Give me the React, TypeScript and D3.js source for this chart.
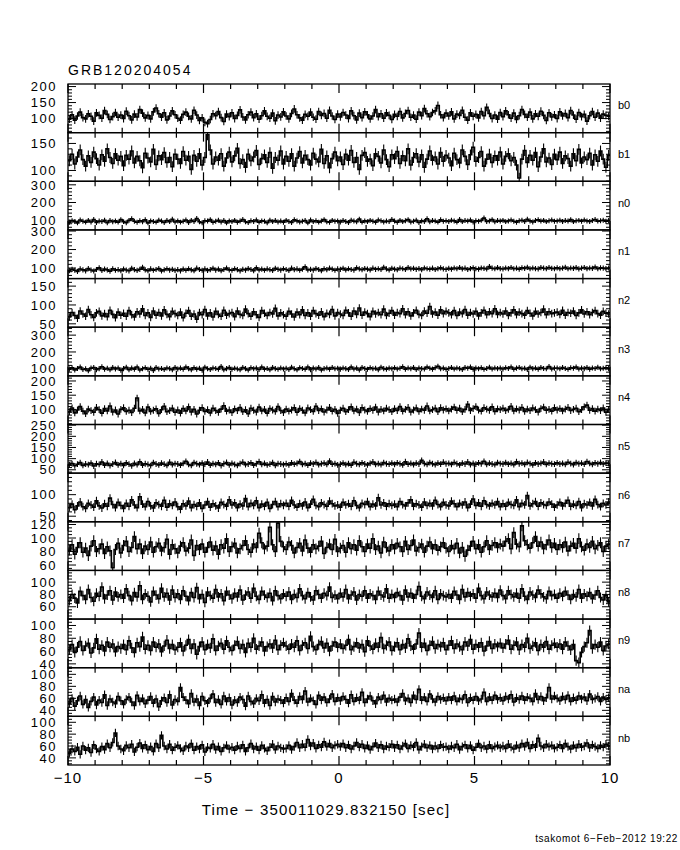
import React from "react";
import * as d3 from "d3";

const panelNames = ["b0", "b1", "n0", "n1", "n2", "n3", "n4", "n5", "n6", "n7", "n8", "n9", "na", "nb"];

const yDomains: [number, number][] = [
  [56, 208], [80, 170], [45, 320], [43, 306], [41, 170], [58, 347], [47, 218],
  [35, 253], [37, 150], [52, 124], [40, 119], [34, 110], [30, 111], [28, 110],
];

const yTickLabels: number[][] = [
  [100, 150, 200], [100, 150], [100, 200, 300], [100, 200, 300], [50, 100, 150],
  [100, 200, 300], [100, 150, 200], [50, 100, 150, 200, 250], [50, 100],
  [60, 80, 100, 120], [60, 80, 100], [40, 60, 80, 100], [40, 60, 80, 100], [40, 60, 80, 100],
];

const yMinorSteps = [10, 10, 20, 20, 10, 20, 10, 10, 10, 5, 5, 5, 5, 5];

// typical 1-sigma error bar half-length per panel (counts/s)
const panelErrors = [12, 10, 14, 14, 10, 15, 12, 13, 9, 8, 8, 8, 7, 7];

const xTickLabels = [-10, -5, 0, 5, 10];
const timeStart = -10;
const binWidth = 0.1;

const b0 = [
  98,112,95,108,120,103,99,115,107,92,118,110,101,125,113,97,106,119,104,111,
  100,123,109,96,114,105,128,117,102,110,99,121,133,115,104,118,96,108,124,112,
  101,95,113,120,107,99,126,111,94,102,88,84,97,115,109,122,103,91,114,106,
  118,100,110,127,105,96,112,120,103,115,98,109,124,107,101,117,93,111,105,121,
  108,99,116,130,112,102,95,113,107,120,104,98,122,110,116,101,126,108,97,114,
  105,119,111,100,124,109,96,117,103,121,112,99,108,128,106,115,101,118,110,97,
  113,107,122,102,116,125,104,111,98,120,109,131,115,106,119,124,141,112,103,117,
  108,121,99,114,110,126,104,95,118,107,113,102,122,109,135,116,100,111,98,119,
  106,124,112,101,117,97,109,128,113,104,120,99,115,107,123,110,94,118,105,112,
  100,121,108,116,103,125,111,98,119,106,113,92,109,122,104,117,101,114,110,107,
];
const b1 = [
  118,130,112,125,138,120,108,127,115,134,122,110,129,117,140,124,113,131,119,126,
  109,128,121,136,114,126,118,105,132,123,116,139,111,127,120,133,115,124,107,130,
  121,113,135,119,126,102,128,117,131,110,124,166,138,112,125,119,131,108,123,134,
  116,127,141,113,120,106,130,118,125,137,111,122,129,115,133,104,124,119,136,112,
  126,117,131,108,123,135,114,128,120,110,132,121,116,139,113,127,105,122,134,118,
  125,111,130,119,137,115,124,102,128,133,117,121,109,131,126,114,138,120,107,129,
  122,135,113,127,118,140,110,124,131,116,129,106,121,136,119,125,112,133,117,128,
  123,109,132,120,114,138,126,111,129,143,117,124,135,108,121,130,115,127,119,134,
  112,126,131,118,124,110,86,121,137,115,128,119,133,107,125,140,116,123,111,130,
  120,134,113,127,122,108,131,118,139,114,125,120,132,110,129,117,136,121,106,128,
];
const n0 = [
  88,97,92,85,101,94,89,99,90,104,87,95,93,100,86,98,91,96,89,103,
  92,86,99,108,94,88,97,91,102,85,96,93,89,100,95,87,98,92,105,90,
  96,89,94,101,87,99,93,110,91,86,97,95,103,88,94,100,90,98,85,96,
  92,99,88,95,104,91,87,97,93,101,89,96,94,86,100,92,98,90,95,88,
  99,93,87,102,96,90,94,98,85,101,92,97,89,95,103,91,88,99,94,96,
  90,98,93,87,100,95,91,106,89,96,92,99,94,88,101,97,90,95,93,104,
  95,88,99,92,97,103,90,94,100,87,96,93,108,91,98,95,89,102,94,97,
  93,100,96,89,104,92,98,95,101,90,97,94,99,112,93,96,103,91,98,95,
  99,92,96,101,94,88,97,100,93,105,96,90,98,102,95,99,92,97,101,94,
  96,100,93,98,95,103,92,97,99,94,101,96,93,98,104,95,97,100,94,98,
];
const n1 = [
  86,93,88,82,95,90,85,97,89,84,92,101,87,94,90,83,96,88,91,86,
  94,89,85,98,91,87,93,104,90,86,95,88,92,97,84,90,96,89,93,87,
  91,85,94,88,96,90,86,99,92,88,95,87,91,98,89,94,86,92,100,90,
  88,96,91,85,93,89,97,92,86,101,90,94,88,95,91,87,98,93,89,96,
  92,87,99,91,95,88,94,106,90,93,89,97,92,86,96,91,99,94,88,95,
  93,98,90,96,92,89,101,95,91,97,94,90,99,93,96,92,104,95,90,98,
  94,91,99,96,92,102,95,98,93,97,91,100,96,94,99,92,97,101,95,93,
  98,94,100,96,103,95,99,92,97,101,96,94,100,98,95,108,99,96,102,97,
  95,100,97,103,96,99,94,101,98,104,96,100,97,95,102,99,97,103,98,96,
  101,97,99,104,96,100,98,102,95,99,103,97,100,98,105,96,101,99,97,100,
];
const n2 = [
  68,80,72,65,84,76,70,88,74,67,79,83,71,77,69,86,75,66,81,73,
  78,70,85,74,68,82,76,90,72,79,67,84,73,80,71,87,75,69,83,77,
  72,81,66,78,85,70,76,62,80,74,88,71,79,68,83,75,70,86,73,77,
  80,69,84,75,72,89,77,70,82,74,67,85,78,72,80,76,91,71,79,74,
  70,83,76,68,81,74,87,72,79,70,85,77,73,82,69,78,75,88,71,80,
  76,72,86,79,70,84,75,92,73,81,77,69,83,76,80,74,89,72,78,85,
  73,80,77,90,74,82,71,79,86,75,72,84,78,96,76,81,73,87,77,83,
  79,74,85,72,81,77,88,73,80,76,83,71,79,86,74,82,77,90,75,80,
  76,84,72,79,87,74,81,77,73,85,78,71,83,76,80,89,74,82,77,79,
  81,75,86,73,80,78,84,72,79,87,76,82,74,80,85,77,73,83,78,76,
];
const n3 = [
  98,106,93,102,110,96,100,89,104,108,95,101,112,97,103,94,107,99,105,92,
  101,109,95,104,98,111,93,100,106,97,103,90,108,99,102,96,105,101,94,107,
  99,104,97,110,101,95,106,98,103,92,109,100,96,105,102,98,113,94,101,107,
  97,103,99,95,108,101,93,106,100,104,96,110,98,102,94,107,101,97,105,99,
  103,96,109,100,94,106,102,98,111,95,104,99,107,93,101,105,97,108,100,103,
  98,105,101,96,110,99,104,93,107,102,97,106,100,103,95,109,101,98,104,100,
  106,99,103,112,97,105,100,108,96,104,101,99,110,103,98,106,115,100,104,97,
  102,108,99,105,101,96,107,103,110,98,104,100,106,97,102,109,99,105,101,104,
  99,106,102,111,97,104,108,100,103,96,109,101,105,98,107,102,100,113,99,104,
  105,100,108,102,97,106,103,110,99,104,101,107,98,105,102,109,100,103,106,101,
];
const n4 = [
  92,105,88,98,110,94,85,101,96,90,107,99,87,103,95,112,91,98,84,100,
  106,93,97,89,104,140,95,100,88,108,93,97,102,86,99,111,92,96,104,90,
  98,87,103,95,109,91,100,84,97,106,93,99,88,104,96,90,101,113,94,98,
  89,102,96,107,92,99,85,104,97,91,108,95,100,87,103,98,93,110,96,89,
  101,94,98,106,90,103,97,88,105,99,93,111,96,102,91,98,107,94,100,86,
  97,104,92,99,109,95,101,89,106,98,93,103,97,108,91,100,95,104,99,92,
  103,96,110,94,100,107,91,98,105,93,101,97,112,95,99,104,92,106,98,102,
  95,101,108,97,104,92,100,118,96,103,110,98,94,106,101,97,109,93,102,99,
  104,96,100,111,95,102,98,107,93,101,96,105,99,91,103,108,97,100,94,106,
  98,103,95,101,107,96,100,104,92,99,109,115,97,103,94,101,96,105,90,100,
];
const n5 = [
  72,78,68,75,82,70,76,73,80,67,77,74,85,71,79,69,76,83,72,78,
  70,81,75,68,79,73,86,71,77,74,69,82,76,72,80,75,70,84,73,78,
  76,71,79,88,74,70,82,77,73,80,75,85,71,78,74,81,69,77,83,72,
  79,74,70,78,84,73,76,81,71,77,86,74,79,72,75,82,70,78,76,73,
  77,72,81,75,79,87,74,78,71,80,76,83,73,77,80,74,89,75,78,72,
  75,80,73,78,71,84,77,74,81,76,72,79,85,74,78,73,82,77,75,80,
  74,81,77,72,86,75,79,73,80,76,92,78,74,82,77,73,80,75,84,77,
  79,74,83,77,72,80,76,85,73,79,75,81,77,88,74,80,76,73,82,78,
  76,82,75,79,73,86,77,80,74,83,78,72,81,76,79,85,74,80,77,75,
  81,76,79,74,84,78,73,82,77,80,75,87,79,74,81,77,83,76,80,78,
];
const n6 = [
  70,78,65,74,83,72,68,80,76,71,86,74,69,79,73,92,77,70,82,75,
  68,80,73,88,76,70,95,78,72,84,74,69,81,77,73,87,71,79,75,83,
  72,66,79,74,85,70,77,73,81,68,76,84,71,79,74,69,82,77,73,88,
  76,81,70,78,74,91,72,80,75,86,70,78,73,82,68,77,84,72,79,75,
  80,73,87,76,71,79,74,83,70,78,89,75,72,81,77,73,85,79,74,76,
  71,82,76,79,73,86,75,70,80,77,84,72,78,74,93,76,81,73,79,75,
  78,72,84,77,74,81,88,73,79,76,71,83,75,80,74,87,77,72,82,76,
  74,85,79,72,80,76,83,70,78,90,75,81,73,86,77,74,80,76,84,72,
  79,73,82,77,75,88,72,80,76,98,74,79,84,73,81,77,75,83,78,71,
  76,82,74,80,87,73,78,75,84,70,79,76,82,74,89,77,72,80,76,83,
];
const n7 = [
  82,90,76,86,93,79,85,74,88,96,80,84,91,77,87,81,56,83,92,78,
  89,95,80,86,102,84,91,77,88,83,94,79,87,92,81,86,98,76,90,84,
  78,88,93,81,85,97,74,89,83,91,79,86,94,82,88,76,90,85,99,80,
  87,92,78,84,89,96,83,79,91,86,107,93,84,88,116,90,80,122,95,87,
  83,94,89,78,86,92,81,97,85,79,90,84,88,95,77,86,91,83,98,80,
  85,89,79,93,84,90,82,96,87,80,91,85,99,83,88,78,94,86,81,90,
  84,92,87,80,95,83,89,97,81,86,91,79,88,94,84,90,82,87,93,85,
  80,89,84,92,78,86,73,82,88,95,84,90,79,87,96,83,89,93,86,91,
  88,95,99,84,108,91,87,118,96,90,85,93,102,88,94,84,90,97,86,92,
  83,90,86,94,81,88,92,85,99,87,82,91,86,95,84,89,93,80,88,91,
];
const n8 = [
  70,80,74,66,85,78,72,88,75,69,82,77,92,73,79,86,71,84,76,80,
  74,89,78,70,83,76,94,72,81,77,68,85,79,73,90,76,82,71,87,75,
  81,72,86,77,70,83,75,91,73,80,67,84,78,74,88,76,81,70,85,79,
  73,82,76,87,71,79,84,74,90,77,72,85,79,75,82,70,86,78,73,81,
  77,84,72,80,75,89,78,73,83,76,71,86,80,74,82,78,92,75,79,73,
  82,76,88,73,79,84,71,80,77,86,74,81,78,72,85,79,76,89,74,80,
  75,83,78,71,87,76,82,74,80,93,77,73,84,79,75,86,72,81,78,76,
  80,74,85,79,72,88,76,83,77,81,74,90,78,73,84,79,76,82,75,87,
  78,73,86,80,76,82,74,89,77,72,84,79,75,87,81,76,73,85,78,80,
  74,82,77,85,79,72,80,76,88,74,81,77,83,73,79,86,75,71,78,68,
];
const n9 = [
  62,70,58,66,75,61,68,72,57,65,79,63,69,60,74,66,71,59,67,64,
  70,62,76,65,58,73,67,82,63,69,61,74,66,71,59,68,77,64,70,62,
  66,73,60,69,78,64,71,55,67,74,62,70,65,79,61,68,72,63,76,66,
  61,69,75,64,70,58,72,66,80,63,68,74,60,67,71,65,77,62,69,73,
  68,63,71,66,76,61,69,73,64,83,67,62,70,75,65,72,60,68,74,66,
  71,64,69,78,62,67,73,65,70,59,76,68,63,72,66,81,64,69,74,61,
  67,73,62,70,65,79,68,63,71,88,66,72,61,69,75,64,70,67,73,62,
  69,76,64,71,67,62,74,68,78,63,70,66,73,60,68,75,64,71,67,72,
  65,71,77,63,69,74,62,70,66,80,64,68,73,61,70,66,75,63,69,72,
  66,71,63,74,68,62,70,45,42,58,67,73,92,64,70,66,74,61,68,71,
];
const na = [
  52,60,47,56,64,50,58,45,55,62,49,57,53,66,48,59,54,51,63,56,
  50,58,62,54,48,65,55,60,51,57,63,52,59,46,56,61,53,66,49,58,
  55,78,62,57,51,68,54,59,48,63,56,52,60,67,53,58,50,64,55,61,
  49,57,53,62,58,47,64,55,51,60,56,66,52,58,48,63,54,59,57,52,
  61,55,68,57,52,63,58,72,54,60,56,50,65,57,62,53,59,67,55,61,
  56,63,58,52,66,55,61,57,70,53,59,64,56,51,62,58,65,54,60,57,
  59,54,62,68,56,60,53,65,58,75,57,62,55,67,59,54,63,58,61,56,
  62,57,64,55,60,58,66,53,61,57,63,56,59,70,55,62,57,65,58,61,
  56,63,59,66,54,61,58,64,57,62,60,55,68,58,63,56,61,78,59,64,
  60,56,63,58,65,55,61,57,64,59,62,56,67,58,60,63,55,62,58,61,
];
const nb = [
  48,55,51,58,46,60,53,57,49,62,55,51,59,54,64,57,66,82,60,55,
  52,61,57,63,50,58,65,56,62,54,59,51,64,57,78,60,55,63,53,58,
  61,56,52,60,57,64,53,59,55,62,50,58,56,63,54,59,51,57,61,55,
  58,53,60,56,62,51,57,64,55,59,53,61,56,52,58,63,54,60,57,55,
  56,61,54,59,66,57,63,58,71,60,65,56,62,58,67,59,64,57,61,63,
  59,64,57,62,55,60,66,58,63,56,61,54,59,65,57,62,55,60,58,63,
  57,62,55,60,64,56,61,58,66,54,59,63,57,61,55,60,56,62,58,59,
  55,60,57,63,54,59,62,56,61,53,58,64,57,60,55,62,56,59,61,57,
  60,56,63,58,55,61,57,64,59,66,56,62,58,73,60,57,63,59,61,56,
  58,62,56,64,59,55,61,57,63,58,60,65,57,62,59,56,61,58,63,60,
];

const seriesList = [b0, b1, n0, n1, n2, n3, n4, n5, n6, n7, n8, n9, na, nb];

const W = 680;
const H = 850;
const left = 68;
const right = 610;
const top = 84;
const bottom = 765;
const font = "'Liberation Sans', 'DejaVu Sans', sans-serif";

export default function App() {
  const x = d3.scaleLinear().domain([-10, 10]).range([left, right]);
  const n = seriesList.length;
  const ph = (bottom - top) / n;
  const xMinor = d3.range(-10, 10.001, 1);

  return (
    <svg width={W} height={H} viewBox={`0 0 ${W} ${H}`} style={{ display: "block", position: "absolute", left: 0, top: 0, background: "#fff" }}>
      <rect x={0} y={0} width={W} height={H} fill="#fff" />
      <text x={68} y={75} fontFamily={font} fontSize={14} letterSpacing={2} fill="#000">GRB120204054</text>
      {seriesList.map((vals, k) => {
        const y0 = top + k * ph;
        const y1 = y0 + ph;
        const y = d3.scaleLinear().domain(yDomains[k]).range([y1, y0]);
        const pts: [number, number][] = vals.map((v, i) => [timeStart + i * binWidth, v]);
        pts.push([timeStart + vals.length * binWidth, vals[vals.length - 1]]);
        const line = d3.line<[number, number]>().x((d) => x(d[0])).y((d) => y(d[1])).curve(d3.curveStepAfter);
        const [dmin, dmax] = yDomains[k];
        const minorVals = d3.range(Math.ceil(dmin / yMinorSteps[k]) * yMinorSteps[k], dmax + 0.001, yMinorSteps[k]);
        const majors = yTickLabels[k];
        const err = panelErrors[k];
        const errPath = vals
          .map((v, i) => {
            const cx = x(timeStart + (i + 0.5) * binWidth);
            const lo = Math.min(y(Math.max(v - err, dmin)), y1);
            const hi = Math.max(y(Math.min(v + err, dmax)), y0);
            return `M${cx.toFixed(2)},${lo.toFixed(2)}V${hi.toFixed(2)}`;
          })
          .join("");
        return (
          <g key={panelNames[k]}>
            <path d={errPath} fill="none" stroke="#000" strokeWidth={1.1} />
            <path d={line(pts) || ""} fill="none" stroke="#000" strokeWidth={1.6} strokeLinejoin="miter" />
            <rect x={left} y={y0} width={right - left} height={ph} fill="none" stroke="#000" strokeWidth={1.3} />
            {xMinor.map((t) => {
              const isMajor = Math.abs(t % 5) < 1e-6;
              const len = isMajor ? 9 : 5;
              return (
                <g key={`xt${t}`}>
                  <line x1={x(t)} x2={x(t)} y1={y0} y2={y0 + len} stroke="#000" strokeWidth={1.2} />
                  <line x1={x(t)} x2={x(t)} y1={y1} y2={y1 - len} stroke="#000" strokeWidth={1.2} />
                </g>
              );
            })}
            {minorVals.map((v) => {
              const isMajor = majors.some((m) => Math.abs(m - v) < 1e-6);
              const len = isMajor ? 8 : 4;
              return (
                <g key={`yt${v}`}>
                  <line x1={left} x2={left + len} y1={y(v)} y2={y(v)} stroke="#000" strokeWidth={1} />
                  <line x1={right} x2={right - len} y1={y(v)} y2={y(v)} stroke="#000" strokeWidth={1} />
                </g>
              );
            })}
            {majors.map((v) => (
              <text key={`yl${v}`} x={57} y={y(v)} dy="0.36em" textAnchor="end" fontFamily={font} fontSize={13} letterSpacing={1.5} fill="#000">{v}</text>
            ))}
            <text x={618} y={(y0 + y1) / 2} dy="0.1em" fontFamily={font} fontSize={11} fill="#000">{panelNames[k]}</text>
          </g>
        );
      })}
      {xTickLabels.map((t) => (
        <text key={`xl${t}`} x={x(t)} y={783} textAnchor="middle" fontFamily={font} fontSize={15} letterSpacing={1} fill="#000">{t < 0 ? `−${Math.abs(t)}` : `${t}`}</text>
      ))}
      <text x={326} y={815} textAnchor="middle" fontFamily={font} fontSize={15} letterSpacing={1.2} fill="#000">Time − 350011029.832150 [sec]</text>
      <text x={678} y={842} textAnchor="end" fontFamily={font} fontSize={10} letterSpacing={0.6} fill="#000">tsakomot  6−Feb−2012 19:22</text>
    </svg>
  );
}
